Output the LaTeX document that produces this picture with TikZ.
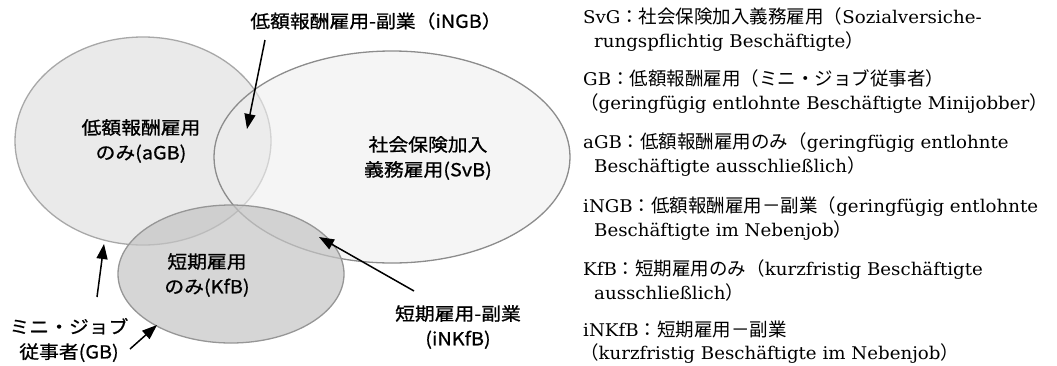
\documentclass[tikz,border=0pt]{standalone}
\usepackage{fontspec}
\setmainfont[FakeStretch=1.04]{DejaVu Serif}
\newfontfamily\jp[Scale=1.057]{Noto Sans CJK JP}
\newfontfamily\goth[FakeStretch=1.1,FakeBold=0.8]{Noto Sans CJK JP}
\usetikzlibrary{shapes.geometric,arrows.meta}
\definecolor{lfill}{HTML}{EAEAEA}
\definecolor{rfill}{HTML}{EEEEEE}
\definecolor{bfill}{HTML}{C4C4C4}
\definecolor{lline}{HTML}{A8A8A8}
\definecolor{rline}{HTML}{8C8C8C}
\definecolor{bline}{HTML}{969696}
\tikzset{
  venn/.style={ellipse, inner sep=0pt, line width=1.3pt},
  lab/.style={align=center, inner sep=0pt, font=\goth\fontsize{18}{25}\selectfont},
  arr/.style={line width=1.5pt, -{Triangle[length=15pt,width=11pt]}},
  leg/.style={anchor=base west, inner sep=0pt, font=\fontsize{17.5}{20}\selectfont},
}
\begin{document}
\begin{tikzpicture}[x=1pt,y=-1pt]
\useasboundingbox (0,0) rectangle (1057,365);
% Venn ellipses
\node[venn, fill=lfill, draw=lline, minimum width=256pt, minimum height=208pt] (aGB) at (143,141) {};
\node[venn, fill=rfill, fill opacity=0.6, draw=rline, minimum width=356pt, minimum height=212pt] (SvB) at (392,157) {};
\node[venn, fill=bfill, fill opacity=0.7, draw=bline, minimum width=226pt, minimum height=138pt] (KfB) at (231,274) {};
% labels
\node[lab] (lngb) at (376,21) {低額報酬雇用-副業（iNGB）};
\node[lab] (laGB) at (141,141) {低額報酬雇用\\のみ(aGB)};
\node[lab] (lSvB) at (428,158) {社会保険加入\\義務雇用(SvB)};
\node[lab] (lKfB) at (207,275) {短期雇用\\のみ(KfB)};
\node[lab] (linkfb) at (458,327) {短期雇用-副業\\(iNKfB)};
\node[lab] (lgb) at (69,340) {ミニ・ジョブ\\従事者(GB)};
% arrow ends
\coordinate (ngbS) at (265,40);
\coordinate (ngbT) at (247,129);
\coordinate (nkS) at (414,291);
\coordinate (nkT) at (319,237);
\coordinate (gbS1) at (97,297);
\coordinate (gbT1) at (104,244);
\coordinate (gbS2) at (130,349);
\coordinate (gbT2) at (157,325);
\draw[arr] (ngbS) -- (ngbT);
\draw[arr] (nkS) -- (nkT);
\draw[arr] (gbS1) -- (gbT1);
\draw[arr] (gbS2) -- (gbT2);
% legend
\node[leg] (g1a) at (583,23) {SvG{\jp ：社会保険加入義務雇用（}Sozialversiche-};
\node[leg] (g1b) at (594,47) {rungspflichtig Beschäftigte{\jp ）}};
\node[leg] (g2a) at (583,85) {GB{\jp ：低額報酬雇用（ミニ・ジョブ従事者）}};
\node[leg] (g2b) at (580,109) {{\jp （}geringfügig entlohnte Beschäftigte Minijobber{\jp ）}};
\node[leg] (g3a) at (583,148) {aGB{\jp ：低額報酬雇用のみ（}geringfügig entlohnte};
\node[leg] (g3b) at (594,172) {Beschäftigte ausschließlich{\jp ）}};
\node[leg] (g4a) at (583,212) {iNGB{\jp ：低額報酬雇用－副業（}geringfügig entlohnte};
\node[leg] (g4b) at (594,236) {Beschäftigte im Nebenjob{\jp ）}};
\node[leg] (g5a) at (583,275) {KfB{\jp ：短期雇用のみ（}kurzfristig Beschäftigte};
\node[leg] (g5b) at (594,299) {ausschließlich{\jp ）}};
\node[leg] (g6a) at (583,336) {iNKfB{\jp ：短期雇用－副業}};
\node[leg] (g6b) at (580,359) {{\jp （}kurzfristig Beschäftigte im Nebenjob{\jp ）}};
\end{tikzpicture}
\end{document}
